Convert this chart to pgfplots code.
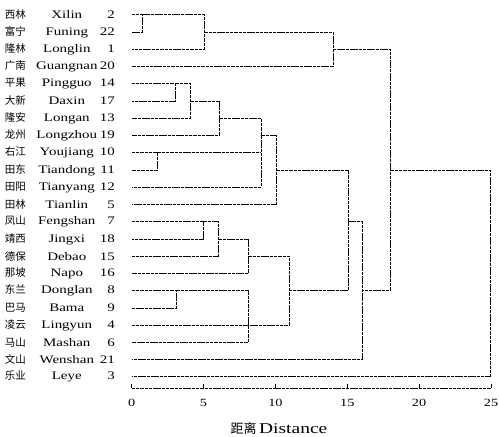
\documentclass[border=0pt]{standalone}
\usepackage{pgfplots}
\pgfplotsset{compat=1.18}
\usepackage{fontspec}
\setmainfont{Liberation Serif}
\newfontfamily\cjk{Noto Sans CJK SC}
\newfontfamily\wide[FakeStretch=1.3]{Liberation Serif}
\newcommand{\lab}[3]{\makebox[27bp][l]{\fontsize{10.5bp}{10.5bp}\cjk #1}\makebox[70bp][c]{\fontsize{11.5bp}{11.5bp}\wide #2}\makebox[13bp][r]{\fontsize{11.5bp}{11.5bp}\wide #3}}
\begin{document}
\begin{tikzpicture}
\useasboundingbox (0,0) rectangle (499bp,437bp);
\begin{axis}[
  at={(131.7bp,49bp)}, anchor=south west,
  scale only axis, width=359.3bp, height=388bp,
  xmin=0, xmax=25, ymin=0.35, ymax=22.85,
  axis x line*=bottom, axis y line*=left,
  y axis line style={draw=none},
  x axis line style={black, line width=0.6pt, dash pattern=on 3.5pt off 0.8pt},
  xtick={0,5,10,15,20,25},
  tick align=inside,
  major tick length=4bp,
  xtick style={black, line width=0.6pt},
  ytick={1,...,22},
  ytick style={draw=none},
  /pgf/number format/assume math mode=true,
  xticklabel style={font=\fontsize{11bp}{11bp}\wide, yshift=-8bp},
  yticklabel style={anchor=east, inner sep=0pt, xshift=-16.7bp},
  yticklabels={
    \lab{乐业}{Leye}{3},
    \lab{文山}{Wenshan}{21},
    \lab{马山}{Mashan}{6},
    \lab{凌云}{Lingyun}{4},
    \lab{巴马}{Bama}{9},
    \lab{东兰}{Donglan}{8},
    \lab{那坡}{Napo}{16},
    \lab{德保}{Debao}{15},
    \lab{靖西}{Jingxi}{18},
    \lab{凤山}{Fengshan}{7},
    \lab{田林}{Tianlin}{5},
    \lab{田阳}{Tianyang}{12},
    \lab{田东}{Tiandong}{11},
    \lab{右江}{Youjiang}{10},
    \lab{龙州}{Longzhou}{19},
    \lab{隆安}{Longan}{13},
    \lab{大新}{Daxin}{17},
    \lab{平果}{Pingguo}{14},
    \lab{广南}{Guangnan}{20},
    \lab{隆林}{Longlin}{1},
    \lab{富宁}{Funing}{22},
    \lab{西林}{Xilin}{2}},
  xlabel={{\fontsize{13bp}{13bp}\cjk 距离} {\fontsize{15bp}{15bp}\wide Distance}},
  xlabel style={at={(axis description cs:0.41,0)}, anchor=base, yshift=-45bp},
  clip=false,
  link/.style={black, line width=0.6pt, dash pattern=on 3.5pt off 0.8pt, mark=none},
]
% top cluster
\addplot[link] coordinates {(0,22) (0.73,22) (0.73,21) (0,21)};
\addplot[link] coordinates {(0.73,22) (5.05,22) (5.05,20) (0,20)};
\addplot[link] coordinates {(5.05,21) (14.0,21) (14.0,19) (0,19)};
% middle cluster
\addplot[link] coordinates {(0,18) (3.06,18) (3.06,17) (0,17)};
\addplot[link] coordinates {(3.06,18) (4.09,18) (4.09,16) (0,16)};
\addplot[link] coordinates {(4.09,17) (6.09,17) (6.09,15) (0,15)};
\addplot[link] coordinates {(0,14) (1.79,14) (1.79,13) (0,13)};
\addplot[link] coordinates {(6.09,16) (9.03,16) (9.03,12) (0,12)};
\addplot[link] coordinates {(1.79,14) (9.03,14)};
\addplot[link] coordinates {(9.03,15) (10.07,15) (10.07,11) (0,11)};
% lower cluster
\addplot[link] coordinates {(0,10) (5.0,10) (5.0,9) (0,9)};
\addplot[link] coordinates {(5.0,10) (6.04,10) (6.04,8) (0,8)};
\addplot[link] coordinates {(6.04,9) (8.11,9) (8.11,7) (0,7)};
\addplot[link] coordinates {(0,6) (3.1,6) (3.1,5) (0,5)};
\addplot[link] coordinates {(3.1,6) (8.11,6) (8.11,3) (0,3)};
\addplot[link] coordinates {(0,4) (8.11,4)};
\addplot[link] coordinates {(8.11,8) (10.96,8) (10.96,4) (8.11,4)};
% upper joins
\addplot[link] coordinates {(10.07,13) (15.06,13) (15.06,6) (10.96,6)};
\addplot[link] coordinates {(15.06,10) (16.04,10) (16.04,2) (0,2)};
\addplot[link] coordinates {(14.0,20) (18.0,20) (18.0,6) (16.04,6)};
\addplot[link] coordinates {(18.0,13) (24.95,13) (24.95,1) (0,1)};
\end{axis}
\end{tikzpicture}
\end{document}
